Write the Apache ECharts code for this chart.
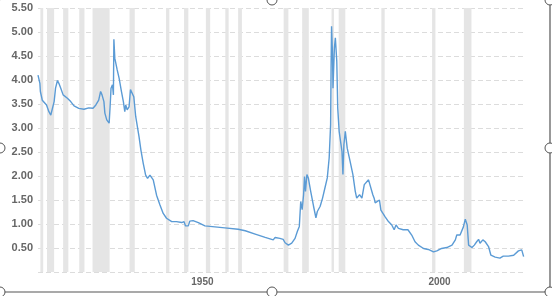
<!DOCTYPE html>
<html>
<head>
<meta charset="utf-8">
<script src="https://cdn.jsdelivr.net/npm/echarts@6/dist/echarts.min.js"></script>
<style>
html,body{margin:0;padding:0;background:#fff;}
#chart{width:552px;height:296px;}
</style>
</head>
<body>
<div id="chart"></div>
<script>
const years = [1918.1,1918.5,1918.6,1919.0,1919.3,1919.9,1920.4,1920.8,1921.1,1921.5,1921.8,1922.2,1922.5,1922.9,1923.4,1924.3,1925.0,1925.7,1926.7,1927.8,1928.8,1929.7,1930.3,1930.9,1931.3,1931.6,1932.0,1932.2,1932.6,1933.1,1933.3,1933.5,1933.8,1934.0,1934.1,1934.3,1934.8,1935.2,1935.7,1936.1,1936.4,1936.6,1936.9,1937.3,1937.6,1938.0,1938.3,1938.7,1939.4,1939.8,1940.3,1940.8,1941.2,1941.7,1942.1,1942.4,1943.1,1943.8,1944.5,1945.2,1946.3,1947.3,1948.4,1948.9,1949.2,1949.8,1950.1,1950.8,1951.9,1953.3,1955.4,1957.5,1960.3,1961.8,1963.9,1966.0,1967.7,1968.1,1969.1,1969.8,1970.2,1970.9,1971.6,1972.3,1972.8,1973.2,1973.5,1973.8,1974.1,1974.3,1974.5,1974.8,1975.1,1975.6,1976.2,1976.7,1977.0,1977.6,1978.1,1978.6,1979.1,1979.5,1979.8,1979.9,1980.0,1980.2,1980.3,1980.6,1980.8,1981.1,1981.3,1981.6,1981.8,1982.2,1982.4,1982.6,1982.9,1983.3,1983.9,1984.5,1985.0,1985.3,1985.9,1986.4,1986.9,1987.3,1987.8,1988.1,1988.7,1989.0,1989.2,1989.5,1990.1,1990.4,1990.8,1991.3,1992.0,1992.7,1993.2,1993.6,1994.1,1995.1,1996.1,1996.9,1997.6,1998.3,1999.4,2000.4,2001.5,2002.2,2003.2,2004.3,2005.4,2006.1,2006.4,2007.1,2007.8,2008.2,2008.6,2008.9,2009.6,2010.1,2010.6,2011.0,2011.3,2011.9,2012.4,2012.7,2013.1,2013.6,2014.5,2015.5,2016.2,2017.3,2018.4,2019.4,2020.1,2020.5];
const values = [4.10,3.93,3.76,3.58,3.55,3.48,3.34,3.27,3.29,3.55,3.83,3.99,3.93,3.83,3.69,3.62,3.55,3.46,3.41,3.39,3.42,3.41,3.48,3.58,3.76,3.69,3.55,3.31,3.17,3.10,3.44,3.83,3.90,3.69,4.85,4.45,4.21,4.04,3.76,3.55,3.34,3.48,3.38,3.44,3.80,3.83,3.65,3.24,2.82,2.54,2.26,2.02,1.95,2.02,1.99,1.92,1.60,1.40,1.22,1.12,1.05,1.05,1.03,1.05,0.96,0.96,1.06,1.07,1.03,0.96,0.94,0.92,0.89,0.86,0.79,0.72,0.67,0.72,0.70,0.68,0.61,0.56,0.60,0.70,0.85,0.95,1.47,1.30,1.61,1.99,1.68,2.03,1.96,1.68,1.37,1.13,1.26,1.37,1.54,1.75,1.96,2.38,3.07,4.25,5.12,4.53,3.83,4.67,4.88,4.39,3.42,2.93,2.79,2.51,2.03,2.65,2.93,2.58,2.31,2.03,1.68,1.54,1.61,1.54,1.82,1.85,1.92,1.88,1.61,1.53,1.44,1.40,1.50,1.29,1.33,1.15,1.05,0.98,0.88,0.98,0.91,0.88,0.88,0.77,0.63,0.56,0.49,0.47,0.42,0.44,0.49,0.51,0.56,0.67,0.77,0.77,0.94,1.10,0.98,0.56,0.51,0.56,0.63,0.68,0.60,0.67,0.63,0.67,0.53,0.35,0.31,0.29,0.33,0.33,0.35,0.44,0.46,0.32];
const recessionStarts = [1918.6,1920.0,1923.4,1926.8,1929.6,1937.4,1945.1,1948.9,1953.5,1957.6,1960.3,1969.9,1973.8,1980.0,1981.5,1990.5,2001.2,2007.9];
const recessionEnds   = [1919.2,1921.5,1924.5,1927.9,1933.2,1938.5,1945.8,1949.8,1954.4,1958.3,1961.1,1970.9,1975.2,1980.5,1982.9,1991.2,2001.9,2009.5];
const xLabelYears = [1950, 2000];
const yMin = 0, yMax = 5.5, yStep = 0.5;

const seriesData = years.map((y, i) => [y, values[i]]);
const bands = recessionStarts.map((s, i) => [{xAxis: s}, {xAxis: recessionEnds[i]}]);

const chart = echarts.init(document.getElementById('chart'), null, {renderer: 'canvas'});
chart.setOption({
  animation: false,
  backgroundColor: '#fff',
  grid: {left: 38, right: 26, top: 8, bottom: 24, containLabel: false},
  xAxis: {
    type: 'value', min: 1918.1, max: 2021.0,
    axisLine: {show: false}, axisTick: {show: false}, splitLine: {show: false},
    axisLabel: {
      customValues: xLabelYears, align: 'left', padding: [0,0,0,2], margin: 5,
      color: '#666', fontSize: 10, fontWeight: 'bold', fontFamily: 'Arial, "Liberation Sans", sans-serif',
      formatter: v => String(Math.round(v))
    }
  },
  yAxis: {
    type: 'value', min: yMin, max: yMax, interval: yStep,
    axisLine: {show: false}, axisTick: {show: false},
    splitLine: {show: true, lineStyle: {color: '#dcdcdc', type: [5, 3], width: 1}},
    axisLabel: {
      margin: 5, color: '#666', fontSize: 11, fontWeight: 'bold', fontFamily: 'Arial, "Liberation Sans", sans-serif',
      formatter: v => v === 0 ? '' : v.toFixed(2)
    }
  },
  series: [{
    type: 'line', data: seriesData, showSymbol: false, symbol: 'none',
    lineStyle: {color: '#5b9bd5', width: 1.4}, itemStyle: {color: '#5b9bd5'},
    markArea: {silent: true, itemStyle: {color: '#e5e5e5'}, data: bands}
  }],
  graphic: [
    {type: 'rect', shape: {x: -2, y: -2, width: 552, height: 294, r: 6}, style: {fill: 'none', stroke: '#555', lineWidth: 1.2}, z: 100, silent: true},
    {type: 'circle', shape: {cx: 0, cy: 148, r: 5}, style: {fill: '#fff', stroke: '#555', lineWidth: 1}, z: 101, silent: true},
    {type: 'circle', shape: {cx: 272, cy: 0, r: 5}, style: {fill: '#fff', stroke: '#555', lineWidth: 1}, z: 101, silent: true},
    {type: 'circle', shape: {cx: 272, cy: 292, r: 5}, style: {fill: '#fff', stroke: '#555', lineWidth: 1}, z: 101, silent: true},
    {type: 'circle', shape: {cx: 550, cy: 148, r: 5}, style: {fill: '#fff', stroke: '#555', lineWidth: 1}, z: 101, silent: true},
    {type: 'circle', shape: {cx: 550, cy: 0, r: 5}, style: {fill: '#fff', stroke: '#555', lineWidth: 1}, z: 101, silent: true},
    {type: 'circle', shape: {cx: 550, cy: 292, r: 5}, style: {fill: '#fff', stroke: '#555', lineWidth: 1}, z: 101, silent: true},
    {type: 'circle', shape: {cx: 0, cy: 292, r: 5}, style: {fill: '#fff', stroke: '#555', lineWidth: 1}, z: 101, silent: true}
  ]
});
</script>
</body>
</html>
